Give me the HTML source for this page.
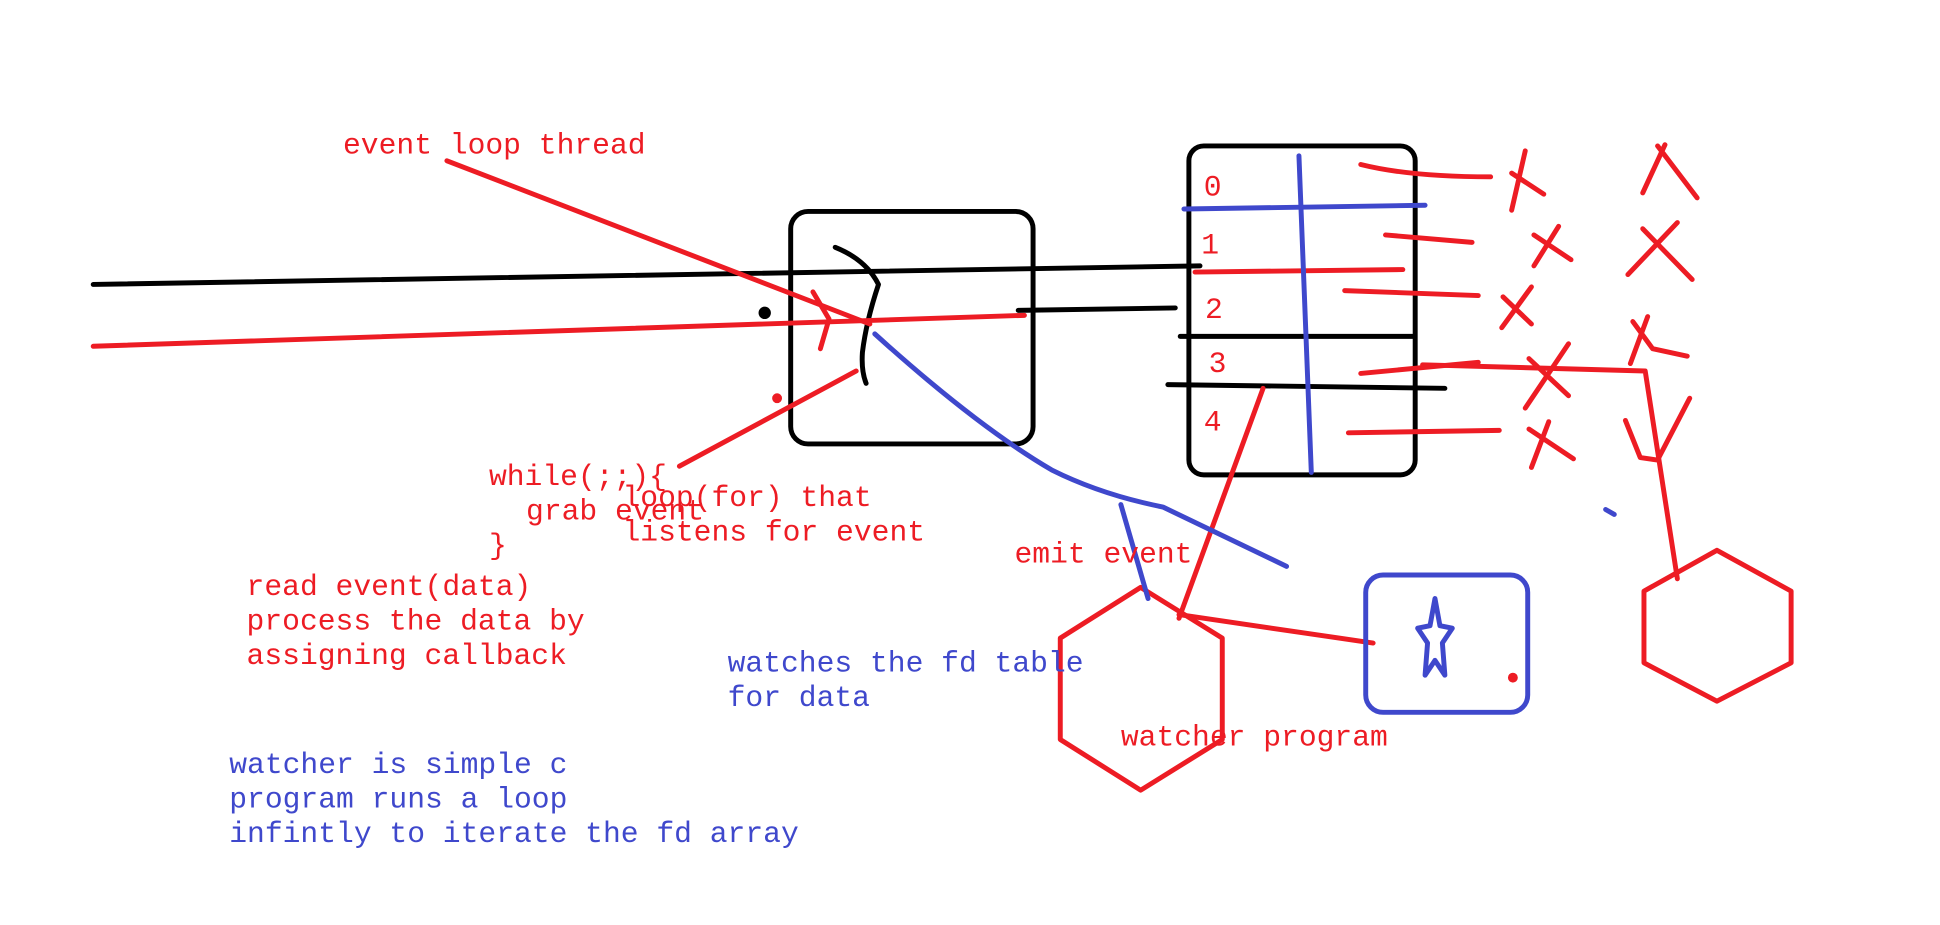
<!DOCTYPE html>
<html><head><meta charset="utf-8"><style>
html,body{margin:0;padding:0;background:#fff;}
svg{display:block}
text{font-family:"Liberation Mono",monospace;font-size:24px}
.r{fill:#ed1c24}.b{fill:#3f48cc}
</style></head><body>
<svg width="1940" height="925" viewBox="0 0 1568 748" xmlns="http://www.w3.org/2000/svg" fill="none" stroke-linecap="round" stroke-linejoin="round">
<!-- black lines -->
<g stroke="#000" stroke-width="4">
<rect x="639" y="171" width="196" height="188" rx="14"/>
<rect x="961" y="118" width="183" height="266" rx="12"/>
<path d="M75 230 L970 215"/>
<path d="M823 251 L950 249"/>
<path d="M954 272 L1142 272"/>
<path d="M944 311 L1168 314"/>
<path d="M675 200 Q700 210 710 230 Q700 260 697 285 Q696 300 700 310"/>
<circle cx="618" cy="253" r="3" fill="#000"/>
</g>
<!-- red lines -->
<g stroke="#ed1c24" stroke-width="4">
<path d="M75 280 L828 255"/>
<path d="M361 130 L703 262"/>
<path d="M549 377 L692 300"/>
<path d="M657 236 L670 258 L663 282"/>
<path d="M966 220 L1134 218"/>
<path d="M1021 314 L953 500"/>
<path d="M953 497 L1110 520"/>
<path d="M1150 295 L1330 300 L1356 468"/>
<polygon points="922,475 988,516 988,598 922,639 857,598 857,516"/>
<polygon points="1388,445 1448,478 1448,536 1388,567 1329,536 1329,478"/>
<path d="M1100 133 Q1140 143 1205 143"/><path d="M1120 190 L1190 196"/>
<path d="M1087 235 L1195 239"/><path d="M1100 302 L1195 293"/>
<path d="M1090 350 L1212 348"/>
<path d="M1222 140 L1248 157 M1233 122 L1222 170"/>
<path d="M1240 190 L1270 210 M1260 183 L1240 215"/>
<path d="M1215 240 L1238 262 M1238 232 L1214 265"/>
<path d="M1236 290 L1268 320 M1268 278 L1233 330"/>
<path d="M1236 347 L1272 371 M1252 341 L1238 378"/>
<path d="M1340 118 L1372 160 M1346 117 L1328 156"/>
<path d="M1328 185 L1368 226 M1356 180 L1316 222"/>
<path d="M1320 260 L1336 282 L1364 288 M1332 256 L1318 294"/>
<path d="M1314 340 L1326 370 L1340 372 L1366 322"/>
<circle cx="628" cy="322" r="2" fill="#ed1c24"/>
<circle cx="1223" cy="548" r="2" fill="#ed1c24"/>
</g>
<!-- blue -->
<g stroke="#3f48cc" stroke-width="4">
<path d="M957 169 L1152 166"/>
<path d="M1050 126 L1060 382"/>
<path d="M707 270 Q790 345 850 380 Q890 400 940 410 L1040 458" />
<path d="M906 408 L928 484"/>
<rect x="1104" y="465" width="131" height="111" rx="14"/>
<polygon points="1160,484 1164,506 1174,508 1166,520 1168,546 1160,534 1152,546 1154,520 1146,508 1156,506"/>
<path d="M1298 412 L1305 416"/>
</g>
<text x="277" y="124" class="r">event loop thread</text>
<text x="395" y="392" class="r">while(;;){</text>
<text x="425" y="420" class="r">grab event</text>
<text x="395" y="448" class="r">}</text>
<text x="503" y="409" class="r">loop(for) that</text>
<text x="503" y="437" class="r">listens for event</text>
<text x="199" y="481" class="r">read event(data)</text>
<text x="199" y="509" class="r">process the data by</text>
<text x="199" y="537" class="r">assigning callback</text>
<text x="820" y="455" class="r">emit event</text>
<text x="906" y="603" class="r">watcher program</text>
<text x="588" y="543" class="b">watches the fd table</text>
<text x="588" y="571" class="b">for data</text>
<text x="185" y="625" class="b">watcher is simple c</text>
<text x="185" y="653" class="b">program runs a loop</text>
<text x="185" y="681" class="b">infintly to iterate the fd array</text>
<text x="973" y="158" class="r">0</text>
<text x="971" y="205" class="r">1</text>
<text x="974" y="257" class="r">2</text>
<text x="977" y="301" class="r">3</text>
<text x="973" y="348" class="r">4</text>
</svg>
</body></html>
